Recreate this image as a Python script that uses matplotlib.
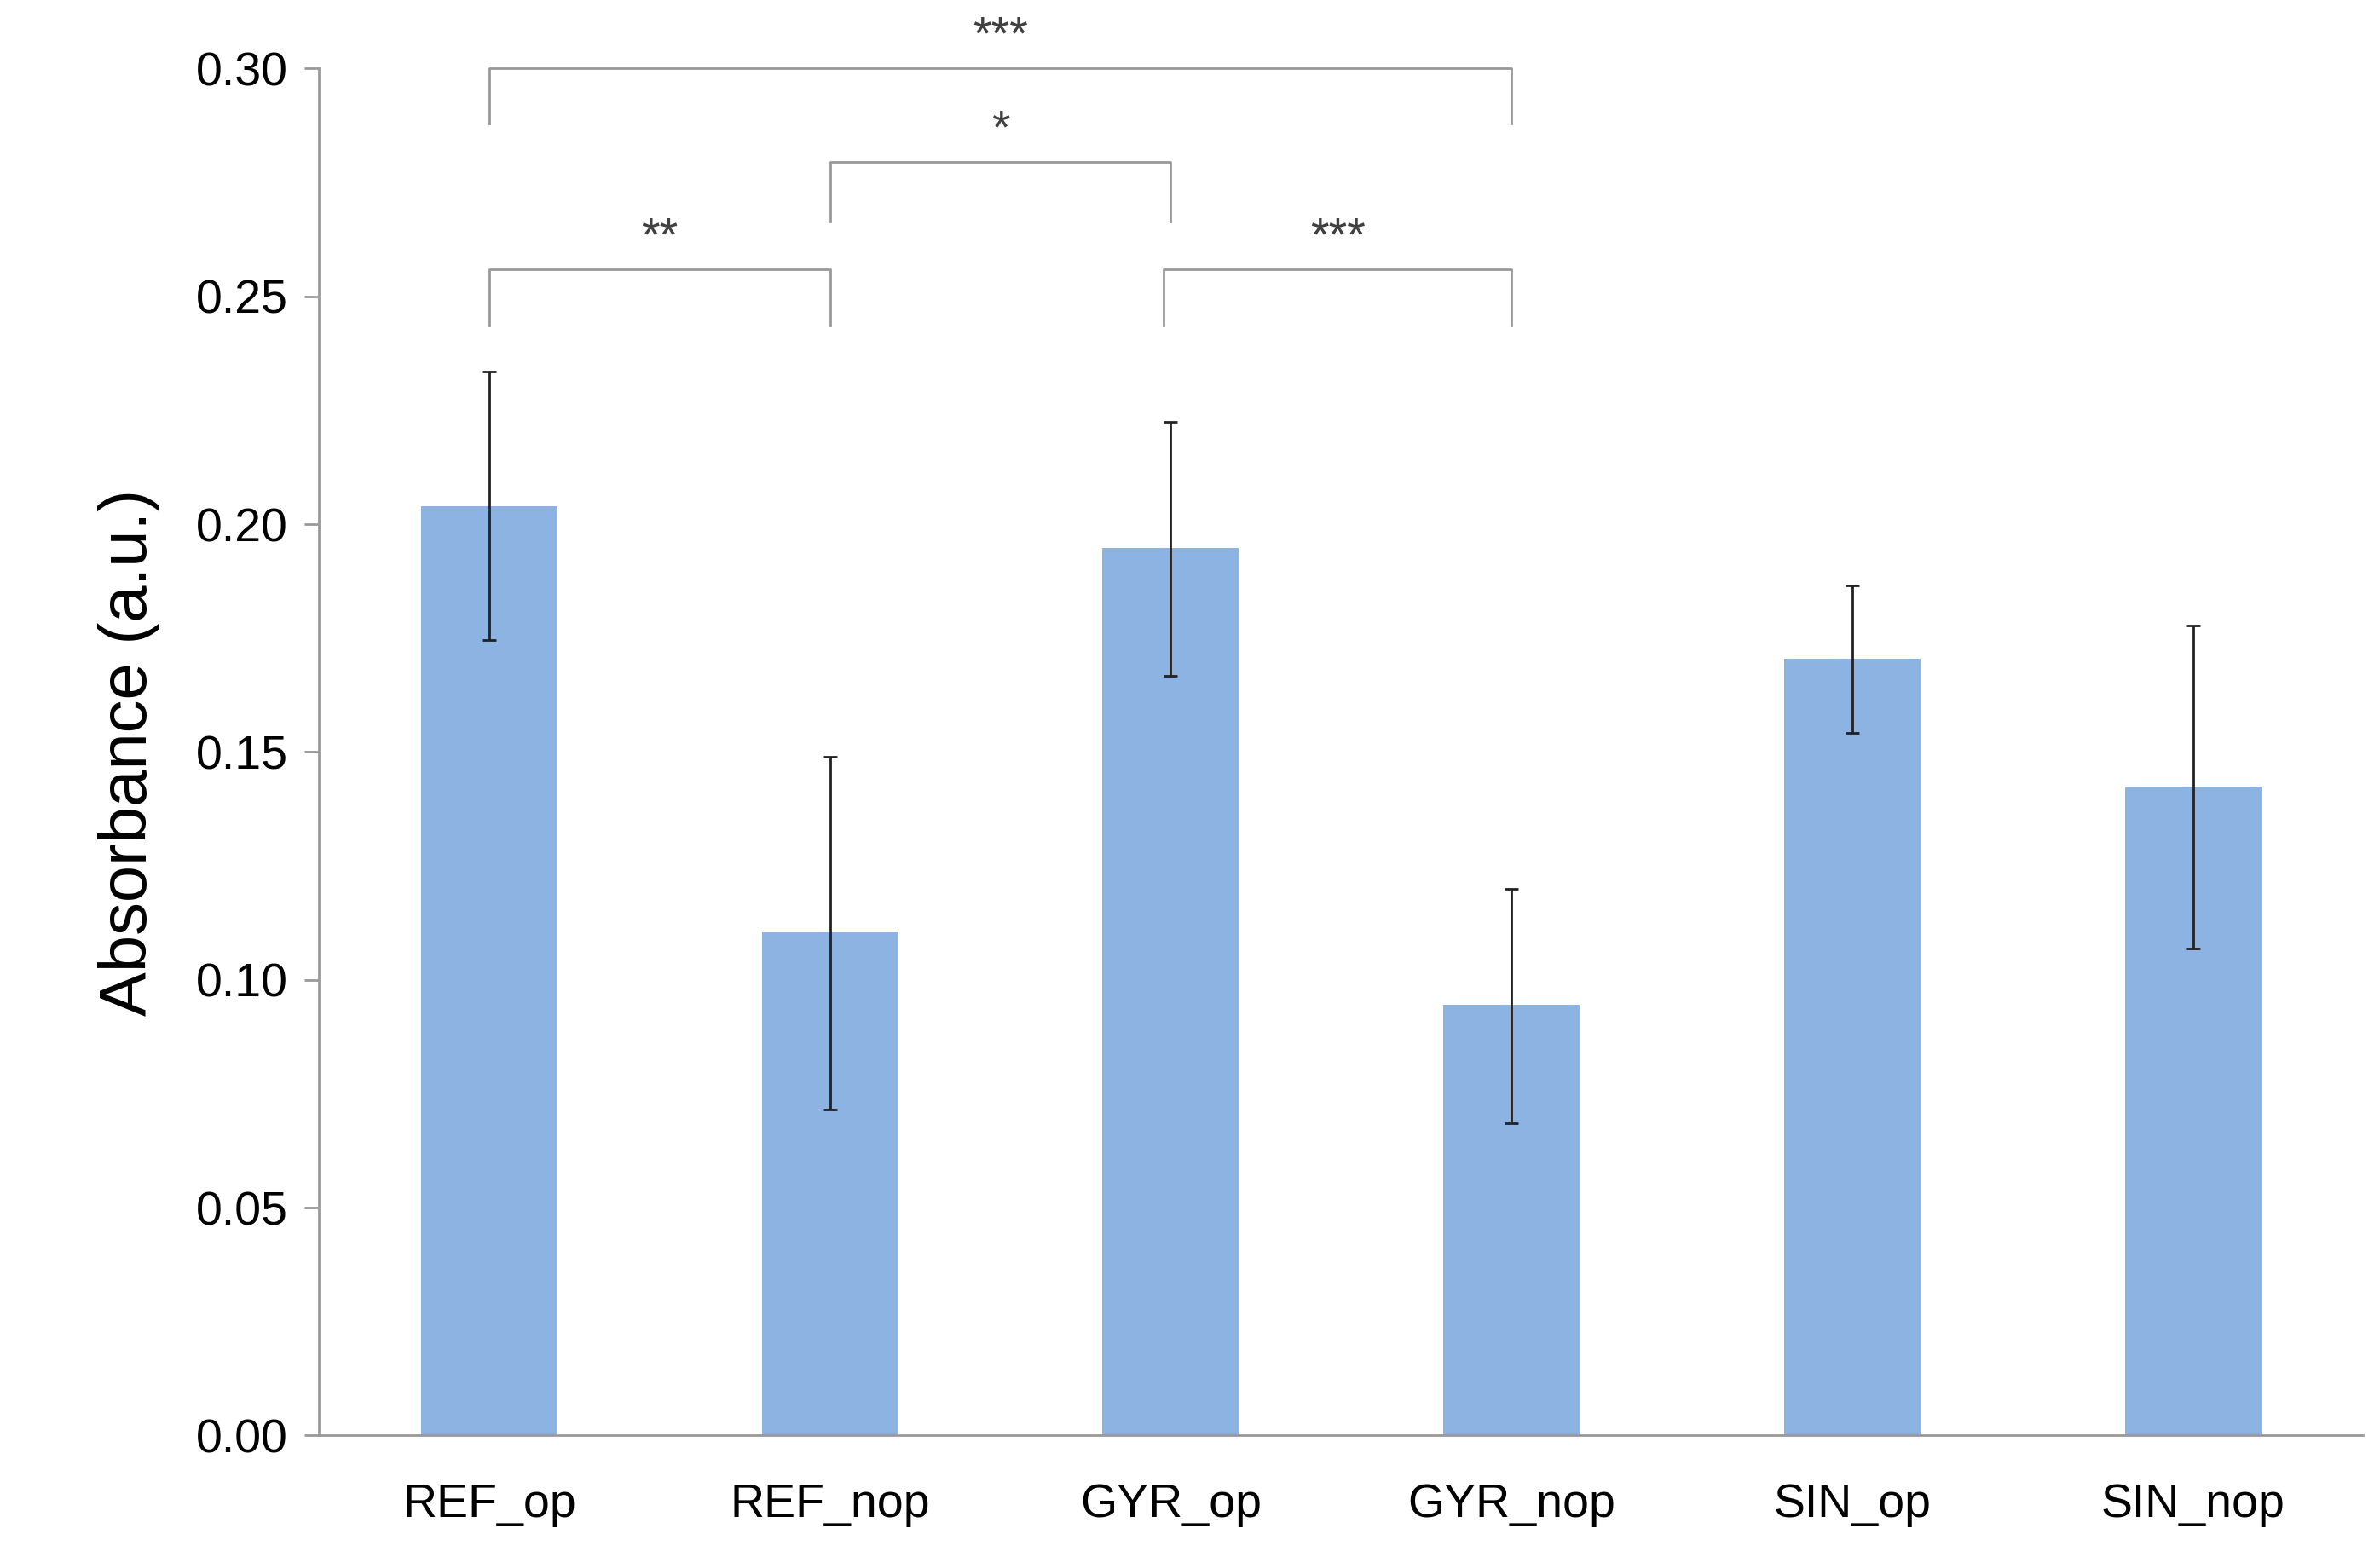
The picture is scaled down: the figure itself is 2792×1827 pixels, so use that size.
import matplotlib
matplotlib.use("Agg")
import matplotlib.pyplot as plt
import numpy as np

categories = ["REF_op", "REF_nop", "GYR_op", "GYR_nop", "SIN_op", "SIN_nop"]
values = [0.204, 0.1105, 0.1948, 0.0945, 0.1705, 0.1425]
err_low = [0.0295, 0.039, 0.028, 0.026, 0.0163, 0.0356]
err_high = [0.0295, 0.0385, 0.0276, 0.0254, 0.016, 0.0353]
yticks = [0.00, 0.05, 0.10, 0.15, 0.20, 0.25, 0.30]
# (left index, right index, bar height, leg bottom, label)
brackets = [(0, 3, 0.300, 0.288, "***"), (1, 2, 0.2795, 0.2665, "*"),
            (0, 1, 0.256, 0.2435, "**"), (2, 3, 0.256, 0.2435, "***")]

plt.rcParams["font.family"] = "Liberation Sans"
fig = plt.figure(figsize=(27.92, 18.27), dpi=100)
ax = fig.add_axes([0.134, 0.078, 0.859, 0.878])
x = np.arange(len(categories))
ax.bar(x, values, width=0.4, color="#8DB3E2", zorder=2)
ax.errorbar(x, values, yerr=[err_low, err_high], fmt="none", ecolor="#222222",
            elinewidth=2, capsize=6, capthick=2, zorder=3)
for l, r, h, b, lab in brackets:
    xl, xr = x[l] - (0.02 if l == 2 and r == 3 else 0), x[r]
    ax.plot([xl, xl, xr, xr], [b, h, h, b], color="#999999", lw=2, clip_on=False)
    ax.text((xl + xr) / 2, h + 0.002, lab, ha="center", va="bottom",
            fontsize=40, color="#404040")
ax.set_xlim(-0.5, 5.5)
ax.set_ylim(0, 0.30)
ax.set_yticks(yticks)
ax.set_yticklabels([f"{t:.2f}" for t in yticks])
ax.set_xticks(x)
ax.set_xticklabels(categories)
ax.tick_params(axis="both", labelsize=40, colors="#000000", length=12, width=2, color="#999999")
ax.tick_params(axis="x", length=0, pad=40)
ax.tick_params(axis="y", direction="out", pad=14)
for s in ["top", "right"]:
    ax.spines[s].set_visible(False)
for s in ["left", "bottom"]:
    ax.spines[s].set_color("#999999")
    ax.spines[s].set_linewidth(2)
ax.set_ylabel("Absorbance (a.u.)", fontsize=56, labelpad=30)
fig.savefig("out.png", dpi=100)
